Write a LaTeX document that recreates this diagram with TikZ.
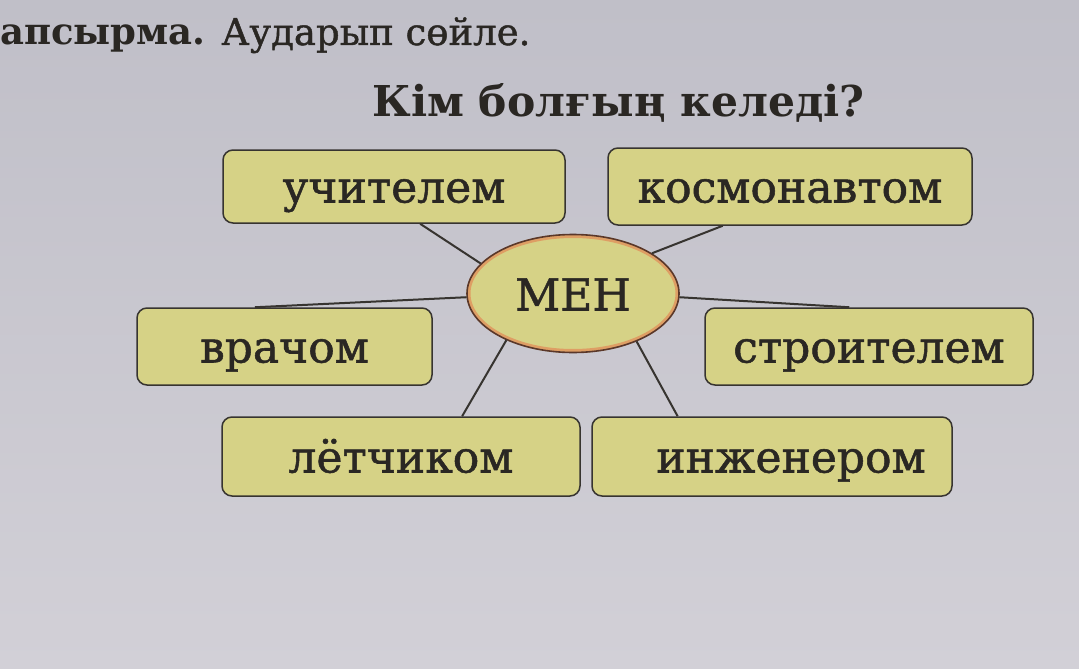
\documentclass[tikz,border=0pt]{standalone}
\usepackage{fontspec}
\setmainfont{DejaVu Serif}
\newfontfamily\heavy[FakeBold=1.2]{DejaVu Serif}
\usetikzlibrary{shapes.geometric,calc}
\definecolor{paperA}{RGB}{192,191,200}
\definecolor{paperB}{RGB}{210,208,215}
\definecolor{boxfill}{RGB}{214,210,134}
\definecolor{boxline}{RGB}{55,52,48}
\definecolor{ink}{RGB}{42,39,35}
\definecolor{ringorange}{RGB}{222,158,100}
\definecolor{ringdark}{RGB}{90,55,42}
\tikzset{
  wordbox/.style={draw=boxline, line width=1.5pt, fill=boxfill, rounded corners=10pt,
    inner sep=0pt, text=ink, font=\heavy\fontsize{44}{50}\selectfont,
    text height=32pt, text depth=0pt},
  spoke/.style={draw=boxline, line width=2pt},
}
\begin{document}
\begin{tikzpicture}[x=1pt,y=-1pt]
\shade[top color=paperA,bottom color=paperB] (0,0) rectangle (1079,669);
\useasboundingbox (0,0) rectangle (1079,669);

\node[anchor=base west, text=ink, inner sep=0pt, font=\fontsize{37}{44}\selectfont] (task) at (0,45)
  {{\bfseries апсырма.} {\heavy Аударып сөйле.}};
\node[anchor=base, text=ink, inner sep=0pt, font=\fontsize{42.5}{50}\selectfont\bfseries] (title) at (618.5,117)
  {Кім болғың келеді?};

\node[wordbox, minimum width=342pt, minimum height=73pt] (uch) at (394,186.5) {учителем};
\node[wordbox, minimum width=364pt, minimum height=77pt] (kos) at (790,186.5) {космонавтом};
\node[wordbox, minimum width=295pt, minimum height=77pt] (vra) at (284.5,346.5) {врачом};
\node[wordbox, minimum width=328pt, minimum height=77pt] (str) at (869,346.5) {строителем};
\node[wordbox, minimum width=358pt, minimum height=79pt] (let) at (401,456.5) {лётчиком};
\node[wordbox, minimum width=360pt, minimum height=79pt] (inz) at (772,456.5) {\hspace*{38pt}инженером};

\node[ellipse, fill=boxfill, inner sep=0pt, minimum width=213pt, minimum height=119pt,
  text=ink, font=\heavy\fontsize{44}{50}\selectfont, text height=34pt, text depth=0pt] (men) at (573,293.5) {МЕН};
\draw[ringorange, line width=3pt] (men.center) ellipse [x radius=104pt, y radius=57pt];
\draw[ringdark, line width=1.6pt] (men.center) ellipse [x radius=106pt, y radius=59pt];

\draw[spoke] (men.162) -- ($(uch.south west)!0.576!(uch.south east)$);
\draw[spoke] (men.27) -- ($(kos.south west)!0.316!(kos.south east)$);
\draw[spoke] (men.182) -- ($(vra.north west)!0.40!(vra.north east)$);
\draw[spoke] (men.358) -- ($(str.north west)!0.44!(str.north east)$);
\draw[spoke] (men.215) -- ($(let.north west)!0.67!(let.north east)$);
\draw[spoke] (men.323) -- ($(inz.north west)!0.239!(inz.north east)$);
\end{tikzpicture}
\end{document}
